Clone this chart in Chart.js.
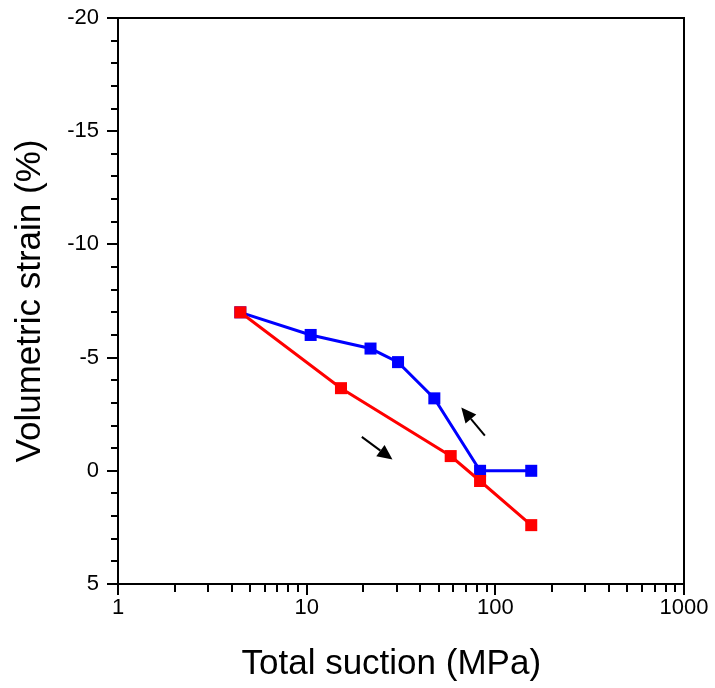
<!DOCTYPE html>
<html>
<head>
<meta charset="utf-8">
<script src="https://cdn.jsdelivr.net/npm/chart.js@4/dist/chart.umd.min.js"></script>
<style>
  html, body { margin: 0; padding: 0; background: #fff; }
  #wrap { width: 715px; height: 688px; }
</style>
</head>
<body>
<div id="wrap"><canvas id="chart" width="715" height="688"></canvas></div>
<script>
'use strict';

// drying path (red) and wetting path (blue)
const dryingSuction = [4.45, 15.2, 58, 83, 155];
const dryingStrain = [-7.0, -3.65, -0.65, 0.45, 2.4];

const wettingSuction = [4.45, 10.5, 21.8, 30.5, 47.5, 83, 155];
const wettingStrain = [-7.0, -6.0, -5.4, -4.8, -3.2, 0, 0];

// arrows: [suction, strain] tail -> head
const arrowTails = [[19.6, -1.5], [88, -1.55]];
const arrowHeads = [[28.5, -0.5], [66, -2.8]];

const xMajorTicks = [1, 10, 100, 1000];
const xMinorTicks = [2, 3, 4, 5, 6, 7, 8, 9, 20, 30, 40, 50, 60, 70, 80, 90, 200, 300, 400, 500, 600, 700, 800, 900];
const yMajorTicks = [-20, -15, -10, -5, 0, 5];
const yMinorTicks = [-19, -18, -17, -16, -14, -13, -12, -11, -9, -8, -7, -6, -4, -3, -2, -1, 1, 2, 3, 4];

const FONT = 'Liberation Sans, Arial, sans-serif';

function toPoints(xs, ys) {
  return xs.map((x, i) => ({ x: x, y: ys[i] }));
}

// ticks, frame and arrows
const decorPlugin = {
  id: 'decor',
  afterDraw(chart) {
    const ctx = chart.ctx;
    const xs = chart.scales.x;
    const ys = chart.scales.y;
    const a = chart.chartArea;
    ctx.save();
    ctx.strokeStyle = '#000';
    ctx.lineWidth = 2;
    ctx.strokeRect(a.left, a.top, a.right - a.left, a.bottom - a.top);

    ctx.beginPath();
    xMajorTicks.forEach(v => {
      const px = Math.round(xs.getPixelForValue(v));
      ctx.moveTo(px, a.bottom); ctx.lineTo(px, a.bottom + 11);
    });
    xMinorTicks.forEach(v => {
      const px = Math.round(xs.getPixelForValue(v));
      ctx.moveTo(px, a.bottom); ctx.lineTo(px, a.bottom + 8);
    });
    yMajorTicks.forEach(v => {
      const py = Math.round(ys.getPixelForValue(v));
      ctx.moveTo(a.left, py); ctx.lineTo(a.left - 11, py);
    });
    yMinorTicks.forEach(v => {
      const py = Math.round(ys.getPixelForValue(v));
      ctx.moveTo(a.left, py); ctx.lineTo(a.left - 7, py);
    });
    ctx.stroke();

    // arrows
    ctx.fillStyle = '#000';
    arrowTails.forEach((t, i) => {
      const h = arrowHeads[i];
      const x0 = xs.getPixelForValue(t[0]), y0 = ys.getPixelForValue(t[1]);
      const x1 = xs.getPixelForValue(h[0]), y1 = ys.getPixelForValue(h[1]);
      const ang = Math.atan2(y1 - y0, x1 - x0);
      const len = 15, half = 7;
      const bx = x1 - len * Math.cos(ang), by = y1 - len * Math.sin(ang);
      ctx.beginPath();
      ctx.moveTo(x0, y0);
      ctx.lineTo(bx, by);
      ctx.stroke();
      ctx.beginPath();
      ctx.moveTo(x1, y1);
      ctx.lineTo(bx + half * Math.sin(ang), by - half * Math.cos(ang));
      ctx.lineTo(bx - half * Math.sin(ang), by + half * Math.cos(ang));
      ctx.closePath();
      ctx.fill();
    });
    ctx.restore();
  }
};

const ctx = document.getElementById('chart').getContext('2d');

const chart = new Chart(ctx, {
  type: 'line',
  data: {
    datasets: [
      {
        label: 'Drying',
        data: toPoints(dryingSuction, dryingStrain),
        borderColor: '#ff0000',
        backgroundColor: '#ff0000',
        borderWidth: 3,
        pointStyle: 'rect',
        pointRadius: 8.5,
        pointBorderWidth: 0,
        tension: 0,
      },
      {
        label: 'Wetting',
        data: toPoints(wettingSuction, wettingStrain),
        borderColor: '#0000ff',
        backgroundColor: '#0000ff',
        borderWidth: 3,
        pointStyle: 'rect',
        pointRadius: 8.5,
        pointBorderWidth: 0,
        tension: 0,
      },
    ],
  },
  options: {
    responsive: false,
    animation: false,
    layout: { padding: { left: 0, right: 31, top: 18, bottom: 0 } },
    plugins: {
      legend: { display: false },
      tooltip: { enabled: false },
    },
    scales: {
      x: {
        type: 'logarithmic',
        min: 1,
        max: 1000,
        afterBuildTicks: s => { s.ticks = xMajorTicks.map(v => ({ value: v })); },
        afterFit: s => { s.height = 104; s.paddingLeft = 0; s.paddingRight = 0; },
        grid: { display: true, drawOnChartArea: false, drawTicks: false },
        border: { display: true, color: '#000', width: 2 },
        ticks: {
          color: '#000',
          font: { family: FONT, size: 22 },
          padding: 11,
          maxRotation: 0,
          autoSkip: false,
          callback: v => String(v),
        },
        title: {
          display: true,
          // trailing no-break spaces nudge the centred title a little left
          text: 'Total suction (MPa)\u00A0\u00A0',
          color: '#000',
          font: { family: FONT, size: 35 },
          padding: { top: 0, bottom: 3 },
        },
      },
      y: {
        type: 'linear',
        reverse: true,
        min: -20,
        max: 5,
        afterBuildTicks: s => { s.ticks = yMajorTicks.map(v => ({ value: v })); },
        afterFit: s => { s.width = 118; s.paddingTop = 0; s.paddingBottom = 0; },
        grid: { display: true, drawOnChartArea: false, drawTicks: false },
        border: { display: true, color: '#000', width: 2 },
        ticks: {
          color: '#000',
          font: { family: FONT, size: 22 },
          padding: 19,
          autoSkip: false,
          callback: v => String(v),
        },
        title: {
          display: true,
          text: 'Volumetric strain (%)',
          color: '#000',
          font: { family: FONT, size: 35 },
          padding: { top: 9, bottom: 0 },
        },
      },
    },
  },
  plugins: [decorPlugin],
});
</script>
</body>
</html>
